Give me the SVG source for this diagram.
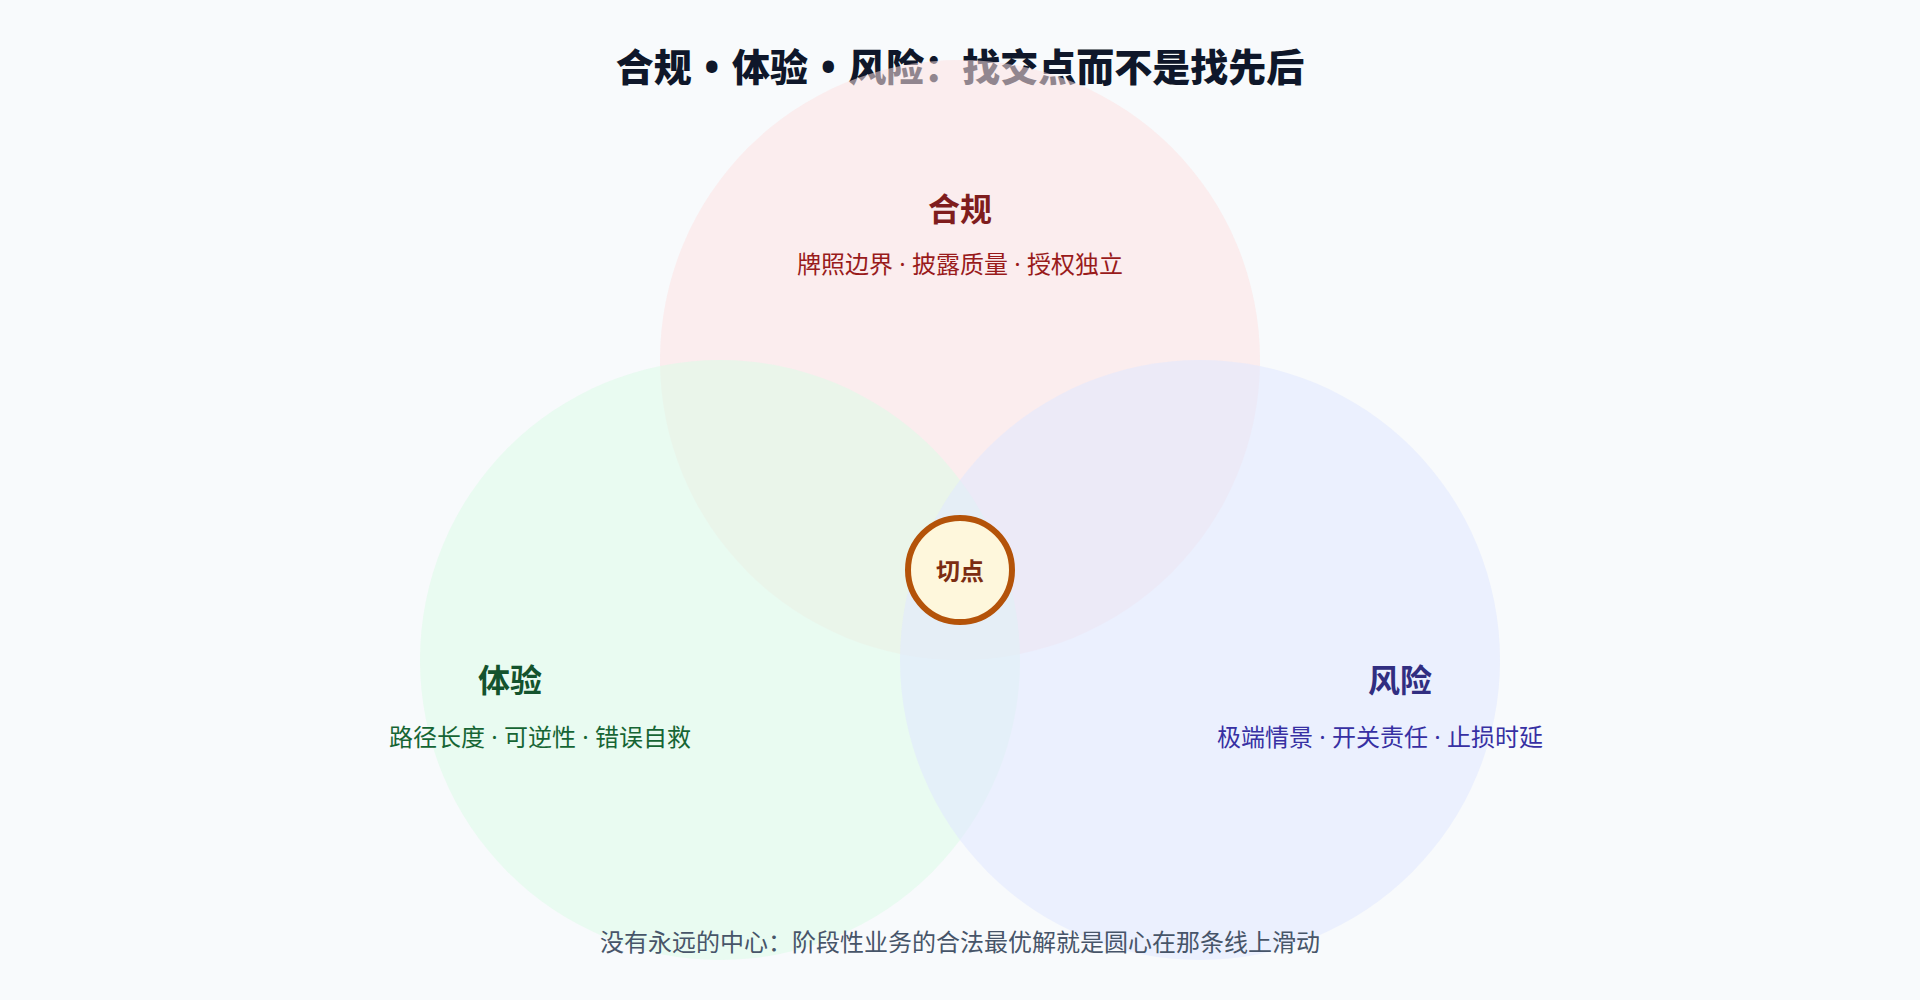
<svg xmlns="http://www.w3.org/2000/svg" width="1920" height="1000" viewBox="0 0 1920 1000">
  <style>
    text { font-family: "Noto Sans", "Noto Sans CJK SC", sans-serif; text-anchor: middle; }
    .title { font-size: 38px; font-weight: 800; fill: #0f172a; }
    .set { fill-opacity: 0.55; }
    .head { font-size: 32px; font-weight: 700; }
    .sub { font-size: 24px; font-weight: 400; }
    .foot { font-size: 24px; fill: #475569; }
  </style>
  <rect x="0" y="0" width="1920" height="1000" fill="#f8fafc"/>
  <text class="title" x="960" y="81">合规 <tspan dx="3">•</tspan><tspan dx="3"> 体验 </tspan><tspan dx="3">•</tspan><tspan dx="3"> 风险：找交点而不是找先后</tspan></text>
  <g id="sets">
    <circle id="set-compliance" class="set" cx="960" cy="360" r="300" fill="#fee2e2"/>
    <circle id="set-experience" class="set" cx="720" cy="660" r="300" fill="#dcfce7"/>
    <circle id="set-risk" class="set" cx="1200" cy="660" r="300" fill="#e0e7ff"/>
  </g>
  <g id="label-compliance">
    <text class="head" x="960" y="221" fill="#7f1d1d">合规</text>
    <text class="sub" x="960" y="273" fill="#991b1b">牌照边界 · 披露质量 · 授权独立</text>
  </g>
  <g id="label-experience">
    <text class="head" x="510" y="692" fill="#14532d">体验</text>
    <text class="sub" x="540" y="746" fill="#166534">路径长度 · 可逆性 · 错误自救</text>
  </g>
  <g id="label-risk">
    <text class="head" x="1400" y="692" fill="#312e81">风险</text>
    <text class="sub" x="1380" y="746" fill="#3730a3">极端情景 · 开关责任 · 止损时延</text>
  </g>
  <g id="connectors"></g>
  <g id="node-center">
    <circle cx="960" cy="570" r="52" fill="#fef7dc" stroke="#b45309" stroke-width="6"/>
    <text x="960" y="580" font-size="24" font-weight="700" fill="#7c2d12">切点</text>
  </g>
  <text class="foot" x="960" y="951">没有永远的中心：阶段性业务的合法最优解就是圆心在那条线上滑动</text>
</svg>
